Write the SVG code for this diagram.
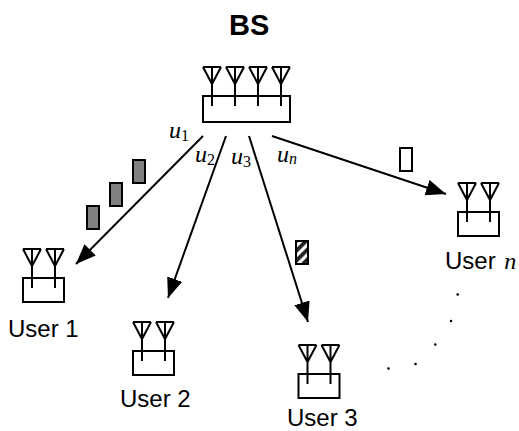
<svg xmlns="http://www.w3.org/2000/svg" xmlns:xlink="http://www.w3.org/1999/xlink" width="519" height="431" viewBox="0 0 519 431">
<style>
text{fill:#000}
.s{font-family:"Liberation Sans",Arial,sans-serif;font-size:24px}
.u{font-family:"Liberation Serif","Times New Roman",serif;font-style:italic;font-size:24px}
.sub{font-family:"Liberation Serif","Times New Roman",serif;font-size:16px;font-style:normal}
.box{fill:#fff;stroke:#000;stroke-width:2}
.ant{fill:none;stroke:#000;stroke-width:2}
.pkt{stroke:#000;stroke-width:2}
.c{stroke:#000;stroke-width:2;fill:none;marker-end:url(#ah)}
</style>
<defs>
<marker id="ah" markerUnits="userSpaceOnUse" markerWidth="22" markerHeight="18" refX="20" refY="9" orient="auto"><path d="M0 1 L20 9 L0 17 Z" fill="#000"/></marker>
<pattern id="hatch" patternUnits="userSpaceOnUse" width="7" height="7" patternTransform="rotate(-45 0 0)"><rect width="7" height="7" fill="#fff"/><rect width="7" height="3.800" fill="#222"/></pattern>
<g id="a"><path class="ant" d="M0 0H18M0 0L9 17L18 0M9 0V39"/></g>
</defs>
<rect width="519" height="431" fill="#fff"/>
<g id="connectors">
<path class="c" d="M203 136L76 264"/>
<path class="c" d="M226 136L168 298"/>
<path class="c" d="M249 136L308 322"/>
<path class="c" d="M272 136L446 194"/>
</g>
<g id="BS">
<rect class="box" x="203" y="96" width="87" height="26"/>
<use xlink:href="#a" x="203" y="67"/><use xlink:href="#a" x="226" y="67"/><use xlink:href="#a" x="249" y="67"/><use xlink:href="#a" x="272" y="67"/>
<text x="229" y="35" font-family="'Liberation Sans',Arial,sans-serif" font-size="29" font-weight="bold">BS</text>
</g>
<g id="user1">
<rect class="box" x="23" y="278" width="41" height="24"/>
<use xlink:href="#a" x="23" y="249"/><use xlink:href="#a" x="46" y="249"/>
<text class="s" x="8" y="337">User 1</text>
</g>
<g id="user2">
<rect class="box" x="133" y="351" width="41" height="24"/>
<use xlink:href="#a" x="133" y="322"/><use xlink:href="#a" x="156" y="322"/>
<text class="s" x="120" y="407">User 2</text>
</g>
<g id="user3">
<rect class="box" x="298.500" y="374" width="41" height="24"/>
<use xlink:href="#a" x="298.500" y="345"/><use xlink:href="#a" x="321.500" y="345"/>
<text class="s" x="287" y="426">User 3</text>
</g>
<g id="usern">
<rect class="box" x="458" y="212" width="41" height="24"/>
<use xlink:href="#a" x="458" y="183"/><use xlink:href="#a" x="481" y="183"/>
<text class="s" x="445" y="269">User <tspan class="u" dx="2">n</tspan></text>
</g>
<g id="labels">
<text class="u" x="169" y="138">u<tspan class="sub" dy="3">1</tspan></text>
<text class="u" x="195" y="162">u<tspan class="sub" dy="3">2</tspan></text>
<text class="u" x="231" y="164">u<tspan class="sub" dy="3">3</tspan></text>
<text class="u" x="277" y="162">u<tspan class="sub" dy="2" style="font-style:italic">n</tspan></text>
</g>
<g id="packets">
<rect class="pkt" x="133" y="160" width="12" height="23" fill="#808080"/>
<rect class="pkt" x="110" y="183" width="12" height="23" fill="#808080"/>
<rect class="pkt" x="87" y="206" width="12" height="23" fill="#808080"/>
<rect class="pkt" x="296" y="241" width="12" height="23" fill="url(#hatch)"/>
<rect class="pkt" x="400" y="148" width="12" height="23" fill="#fff"/>
</g>
<g id="dots" fill="#000">
<circle cx="457.700" cy="294.500" r="1.300"/><circle cx="451" cy="321" r="1.300"/><circle cx="435.300" cy="344.500" r="1.300"/><circle cx="415.500" cy="364" r="1.300"/><circle cx="388.500" cy="368.500" r="1.300"/>
</g>
</svg>
